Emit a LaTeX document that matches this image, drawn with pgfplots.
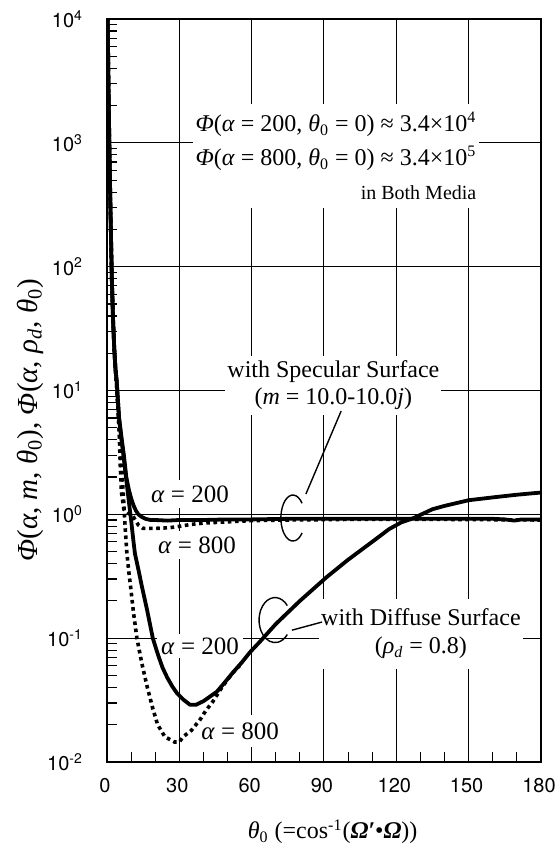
\documentclass[border=0pt]{standalone}
\usepackage{pgfplots}
\pgfplotsset{compat=1.18}
\usepackage{fontspec}
\setmainfont{Liberation Serif}
\newfontfamily\heros{TeX Gyre Heros}

\begin{document}
\begin{tikzpicture}
\begin{axis}[
  name=ax,
  scale only axis,
  width=217pt, height=371.5pt,
  xmin=0, xmax=180, ymode=log, ymin=1e-2, ymax=1e4,
  xtick={0,30,60,90,120,150,180},
  xticklabels={0,30,60,90,120,150,180},
  ytick={1e-2,1e-1,1,10,100,1000,10000},
  yticklabels={10\textsuperscript{-2},10\textsuperscript{-1},10\textsuperscript{0},10\textsuperscript{1},10\textsuperscript{2},10\textsuperscript{3},10\textsuperscript{4}},
  minor xtick={10,20,40,50,70,80,100,110,130,140,160,170},
  minor ytick={2e-2,3e-2,4e-2,5e-2,6e-2,7e-2,8e-2,9e-2,
               2e-1,3e-1,4e-1,5e-1,6e-1,7e-1,8e-1,9e-1,
               2,3,4,5,6,7,8,9,
               20,30,40,50,60,70,80,90,
               200,300,400,500,600,700,800,900,
               2000,3000,4000,5000,6000,7000,8000,9000},
  xtick pos=bottom, ytick pos=left,
  tick align=inside,
  major tick length=0pt,
  minor tick length=4.8pt,
  xmajorgrids, ymajorgrids,
  major grid style={black, line width=0.5pt},
  axis line style={line width=0.7pt},
  minor tick style={black, line width=0.6pt},
  ticklabel style={font=\heros\fontsize{10}{12}\selectfont},
  yticklabel style={xshift=-8.5pt},
  xticklabel style={yshift=-4.5pt, xshift=-1pt},
  every axis x label/.style={at={(rel axis cs:0.52,-0.094)}, anchor=center, font=\fontsize{12}{14}\selectfont},
  every axis y label/.style={at={(rel axis cs:-0.177,0.46)}, anchor=center, rotate=90, font=\fontsize{14.5}{17}\selectfont},
  xlabel={\textit{θ}\textsubscript{0} (=cos\textsuperscript{-1}(\textbf{\textit{Ω′}}•\textbf{\textit{Ω}}))},
  ylabel={\textit{Φ}(\textit{α}, \textit{m}, \textit{θ}\textsubscript{0}), \textit{Φ}(\textit{α}, \textit{ρ}\textsubscript{\textit{d}}, \textit{θ}\textsubscript{0})},
  clip=true,
  solidc/.style={black, line width=1.9pt, line join=round},
  dotc/.style={black, line width=1.8pt, dash pattern=on 1.8pt off 1.8pt},
]
% white boxes hiding grid behind labels
\node[fill=white, inner xsep=1.5pt, inner ysep=4pt, anchor=west, align=right,
      font=\fontsize{12}{17}\selectfont] at (axis cs:35.3,783)
  {\textit{Φ}(\textit{α} = 200, \textit{θ}\textsubscript{0} = 0) ≈ 3.4×10\textsuperscript{4}\\
   \textit{Φ}(\textit{α} = 800, \textit{θ}\textsubscript{0} = 0) ≈ 3.4×10\textsuperscript{5}\\
   {\fontsize{10}{12}\selectfont in Both Media}};
\node[fill=white, inner xsep=1pt, inner ysep=2.5pt, align=center,
      font=\fontsize{12}{13.5}\selectfont] at (axis cs:93.9,11.07)
  {with Specular Surface\\(\textit{m} = 10.0-10.0\textit{j})};
\node[fill=white, inner xsep=1pt, inner ysep=5pt, align=center,
      font=\fontsize{12}{14}\selectfont] at (axis cs:130.2,0.108)
  {with Diffuse Surface\\(\textit{ρ}\textsubscript{\textit{d}} = 0.8)};
\node[fill=white, inner sep=3pt, font=\fontsize{12.5}{14}\selectfont] at (axis cs:34.4,1.46) {\textit{α} = 200};
\node[fill=white, inner sep=3pt, font=\fontsize{12.5}{14}\selectfont] at (axis cs:37.3,0.565) {\textit{α} = 800};
\node[fill=white, inner sep=2pt, font=\fontsize{12.5}{14}\selectfont] at (axis cs:38.6,0.0865) {\textit{α} = 200};
\node[fill=white, inner sep=4pt, font=\fontsize{12.5}{14}\selectfont] at (axis cs:55.2,0.0178) {\textit{α} = 800};

% diffuse, alpha = 800 (dotted)
\addplot[dotc] coordinates {
(0,30000) (0.3,10000) (0.6,3000) (1,900) (1.5,250) (2,80) (2.5,38) (3,22) (3.5,15)
(4,11) (5,5) (6,2.6) (7,1.2) (7.5,0.8) (8.2,0.5) (9,0.35) (10,0.24) (11,0.16)
(12.4,0.1) (14.5,0.062) (16.6,0.041) (19,0.027) (21,0.02) (24,0.016) (28,0.0145)
(30,0.0145) (31.6,0.016) (35,0.018) (38.6,0.022) (41,0.026) (44,0.031) (48,0.041)
(52,0.052) (55,0.06)
};
% diffuse, alpha = 200 (solid)
\addplot[solidc] coordinates {
(0,30000) (0.3,10000) (0.6,3000) (1,900) (1.5,250) (2,80) (2.5,38) (3,22) (3.5,15)
(4,12) (5,6) (6,4) (7,2.8) (8,1.9) (9,1.3) (10,0.9) (11,0.6) (11.6,0.48) (13,0.36)
(14.5,0.26) (16.6,0.17) (19,0.1) (21,0.075) (23,0.058) (25,0.048) (27,0.041)
(29,0.036) (31.6,0.032) (34.4,0.029) (37,0.029) (40,0.031) (42,0.033) (45.6,0.037)
(48,0.042) (52.3,0.053) (56,0.064) (59.3,0.077) (63.5,0.094) (70,0.13) (80,0.2)
(91,0.31) (100,0.43) (110,0.6) (117,0.76) (122,0.86) (127,0.93) (135,1.1)
(140,1.17) (150,1.3) (160,1.37) (170,1.44) (175,1.47) (180,1.5)
};
% specular, alpha = 200 (solid)
\addplot[solidc] coordinates {
(0,30000) (0.3,10000) (0.6,3000) (1,900) (1.5,250) (2,80) (2.5,38) (3,22) (3.5,15)
(4,12) (5,6) (6,4.2) (7,3.0) (8,2.0) (9,1.6) (10,1.35) (11,1.18) (12,1.07) (13,1.0)
(14.5,0.95) (16,0.92) (18,0.9) (20,0.9) (25,0.89) (30,0.9) (40,0.9) (50,0.91)
(60,0.91) (75,0.92) (90,0.92) (105,0.92) (120,0.92) (135,0.92) (150,0.92)
(160,0.92) (165,0.91) (169,0.89) (172,0.91) (180,0.91)
};
% specular, alpha = 800 (dotted)
\addplot[dotc] coordinates {
(0,30000) (0.3,10000) (0.6,3000) (1,900) (1.5,250) (2,80) (2.5,38) (3,22) (3.5,15)
(4,11) (5,5) (5.5,2.5) (6,1.5) (7,1.1) (9,1.02) (11,0.95) (13,0.82) (15,0.77)
(20,0.77) (26,0.78) (30,0.8) (35,0.83) (40,0.85) (50,0.87) (60,0.89) (75,0.9)
(100,0.91) (140,0.91) (180,0.9)
};

% brackets and leader lines
\draw[line width=0.7pt] ([shift={(40:6pt and 11.5pt)}]axis cs:77.1,0.933)
  arc[start angle=40, end angle=320, x radius=6pt, y radius=11.5pt];
\draw[line width=0.7pt] (axis cs:82.5,1.46) -- (axis cs:97.1,6.82);
\draw[line width=0.7pt] ([shift={(40:8pt and 11.25pt)}]axis cs:69.7,0.140)
  arc[start angle=40, end angle=320, x radius=8pt, y radius=11.25pt];
\draw[line width=0.7pt] (axis cs:76.7,0.116) -- (axis cs:89.2,0.135);
\end{axis}
\pgfresetboundingbox
\path ([xshift=-53.5pt,yshift=-42pt]ax.south west) rectangle ([xshift=7pt,yshift=9.5pt]ax.north east);
\end{tikzpicture}
\end{document}
